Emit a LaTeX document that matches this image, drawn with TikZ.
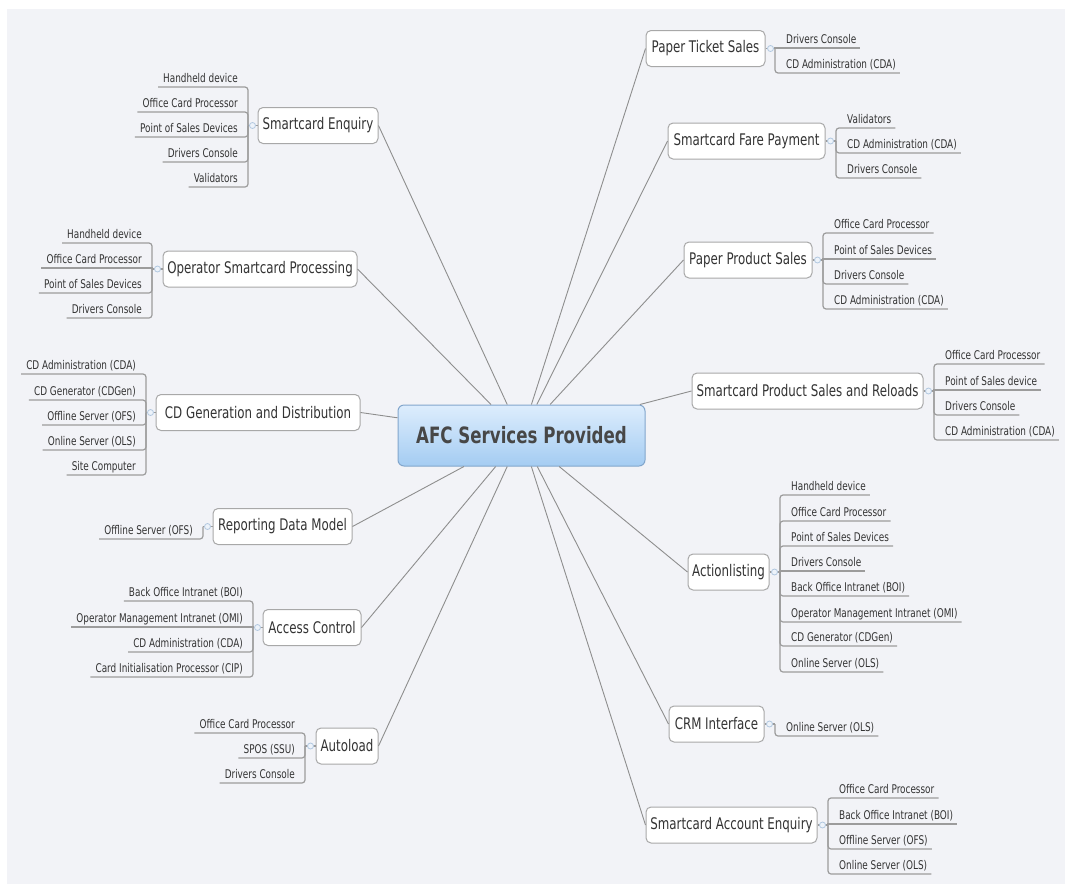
\documentclass[tikz,border=0pt]{standalone}
\usepackage{fontspec}
\setmainfont{DejaVu Sans}[FakeStretch=0.74]
\usetikzlibrary{calc}
\definecolor{bgc}{HTML}{F2F3F7}
\definecolor{txt}{HTML}{333333}
\definecolor{ulc}{HTML}{9C9C9C}
\definecolor{cnc}{HTML}{8E8E8E}
\definecolor{bdc}{HTML}{A8A8A8}
\definecolor{ctop}{HTML}{DDEDFD}
\definecolor{cbot}{HTML}{A4CCF2}
\definecolor{cbd}{HTML}{82A6CC}
\definecolor{knbd}{HTML}{B2C8E0}
\definecolor{knfill}{HTML}{EDF3FA}
\tikzset{
  leaf/.style={inner sep=0pt, text=txt, font=\fontsize{12}{14}\selectfont},
  branch/.style={draw=bdc, fill=white, line width=1pt, rounded corners=5pt,
    minimum height=36pt, inner xsep=3pt, text=txt, font=\fontsize{16}{19}\selectfont},
  central/.style={draw=cbd, line width=1pt, top color=ctop, bottom color=cbot,
    rounded corners=6pt, minimum width=247pt, minimum height=61pt,
    text=txt!90, font=\fontsize{22.5}{26}\selectfont\bfseries},
  knob/.style={circle, draw=knbd, fill=knfill, line width=0.8pt, inner sep=0pt, minimum size=6pt},
  uline/.style={draw=ulc, line width=1.2pt},
  conn/.style={draw=cnc, line width=0.9pt}
}
\newcommand\grpL[4]{%
  \coordinate (#1j) at (#2,#3);
  \draw[uline] (#1.west) -- (#1j);
  \node[knob] (#1k) at ($(#1.west)+(-5,0)$) {};
  \foreach \y/\t [count=\i] in {#4} {
    \node[leaf, anchor=base east] (#1l\i) at (#2-10,\y-5) {\t};
    \coordinate (#1u\i) at ($(#1l\i.base west)+(-5,5)$);
    \pgfmathsetmacro\dd{abs(\y-#3)}
    \ifdim\dd pt<2pt
      \draw[uline] (#1j) |- (#1u\i);
    \else
      \draw[uline, rounded corners=3pt] (#1j) |- (#1u\i);
    \fi
  }
}
\newcommand\grpR[4]{%
  \coordinate (#1j) at (#2,#3);
  \draw[uline] (#1.east) -- (#1j);
  \node[knob] (#1k) at ($(#1.east)+(5,0)$) {};
  \foreach \y/\t [count=\i] in {#4} {
    \node[leaf, anchor=base west] (#1l\i) at (#2+11,\y-5) {\t};
    \coordinate (#1u\i) at ($(#1l\i.base east)+(4,5)$);
    \pgfmathsetmacro\dd{abs(\y-#3)}
    \ifdim\dd pt<2pt
      \draw[uline] (#1j) |- (#1u\i);
    \else
      \draw[uline, rounded corners=3pt] (#1j) |- (#1u\i);
    \fi
  }
}
\begin{document}
\begin{tikzpicture}[x=1pt,y=-1pt]
\useasboundingbox (0,0) rectangle (1065,884);
\fill[white] (0,0) rectangle (1065,884);
\fill[bgc] (7,9) rectangle (1065,884);

% central
\node[central] (c) at (521.5,435.5) {AFC Services Provided};

% branches (left)
\node[branch, minimum width=120pt] (se)  at (318,125.5) {Smartcard Enquiry};
\node[branch, minimum width=194pt] (osp) at (260,269) {Operator Smartcard Processing};
\node[branch, minimum width=204pt] (cdg) at (258,412.5) {CD Generation and Distribution};
\node[branch, minimum width=139pt] (rdm) at (282.5,526.5) {Reporting Data Model};
\node[branch, minimum width=98pt]  (ac)  at (312,627.5) {Access Control};
\node[branch, minimum width=62pt]  (al)  at (347,746) {Autoload};
% branches (right)
\node[branch, minimum width=119pt] (pts)  at (705.5,48.5) {Paper Ticket Sales};
\node[branch, minimum width=157pt] (sfp)  at (746.5,141) {Smartcard Fare Payment};
\node[branch, minimum width=128pt] (pps)  at (748,260) {Paper Product Sales};
\node[branch, minimum width=231pt] (spsr) at (807.5,391) {Smartcard Product Sales and Reloads};
\node[branch, minimum width=81pt]  (act)  at (728.5,572) {Actionlisting};
\node[branch, minimum width=95pt]  (crm)  at (716.5,724) {CRM Interface};
\node[branch, minimum width=171pt] (sae)  at (731.5,825) {Smartcard Account Enquiry};

% connectors from the centre
\foreach \b in {se,osp,cdg,rdm,ac,al} \draw[conn] (c) -- (\b.east);
\foreach \b in {pts,sfp,pps,spsr,act,crm,sae} \draw[conn] (c) -- (\b.west);

% leaf groups
\grpL{se}{248}{125.5}{87/Handheld device,112/Office Card Processor,137/Point of Sales Devices,162/Drivers Console,187/Validators}
\grpL{osp}{152}{269}{243/Handheld device,268/Office Card Processor,293/Point of Sales Devices,318/Drivers Console}
\grpL{cdg}{146}{412.5}{374/CD Administration (CDA),400/CD Generator (CDGen),425/Offline Server (OFS),450/Online Server (OLS),475/Site Computer}
\grpL{rdm}{203}{526.5}{539/Offline Server (OFS)}
\grpL{ac}{253}{627.5}{601/Back Office Intranet (BOI),627/Operator Management Intranet (OMI),652/CD Administration (CDA),677/Card Initialisation Processor (CIP)}
\grpL{al}{305}{746}{733/Office Card Processor,758/SPOS (SSU),783/Drivers Console}

\grpR{pts}{775}{48.5}{48/Drivers Console,73/CD Administration (CDA)}
\grpR{sfp}{836}{141}{128/Validators,153/CD Administration (CDA),178/Drivers Console}
\grpR{pps}{823}{260}{233/Office Card Processor,259/Point of Sales Devices,284/Drivers Console,309/CD Administration (CDA)}
\grpR{spsr}{934}{391}{364/Office Card Processor,390/Point of Sales device,415/Drivers Console,440/CD Administration (CDA)}
\grpR{act}{780}{572}{495/Handheld device,521/Office Card Processor,546/Point of Sales Devices,571/Drivers Console,596/Back Office Intranet (BOI),622/Operator Management Intranet (OMI),646/CD Generator (CDGen),672/Online Server (OLS)}
\grpR{crm}{775}{724}{736/Online Server (OLS)}
\grpR{sae}{828}{825}{798/Office Card Processor,824/Back Office Intranet (BOI),849/Offline Server (OFS),874/Online Server (OLS)}
\end{tikzpicture}
\end{document}
